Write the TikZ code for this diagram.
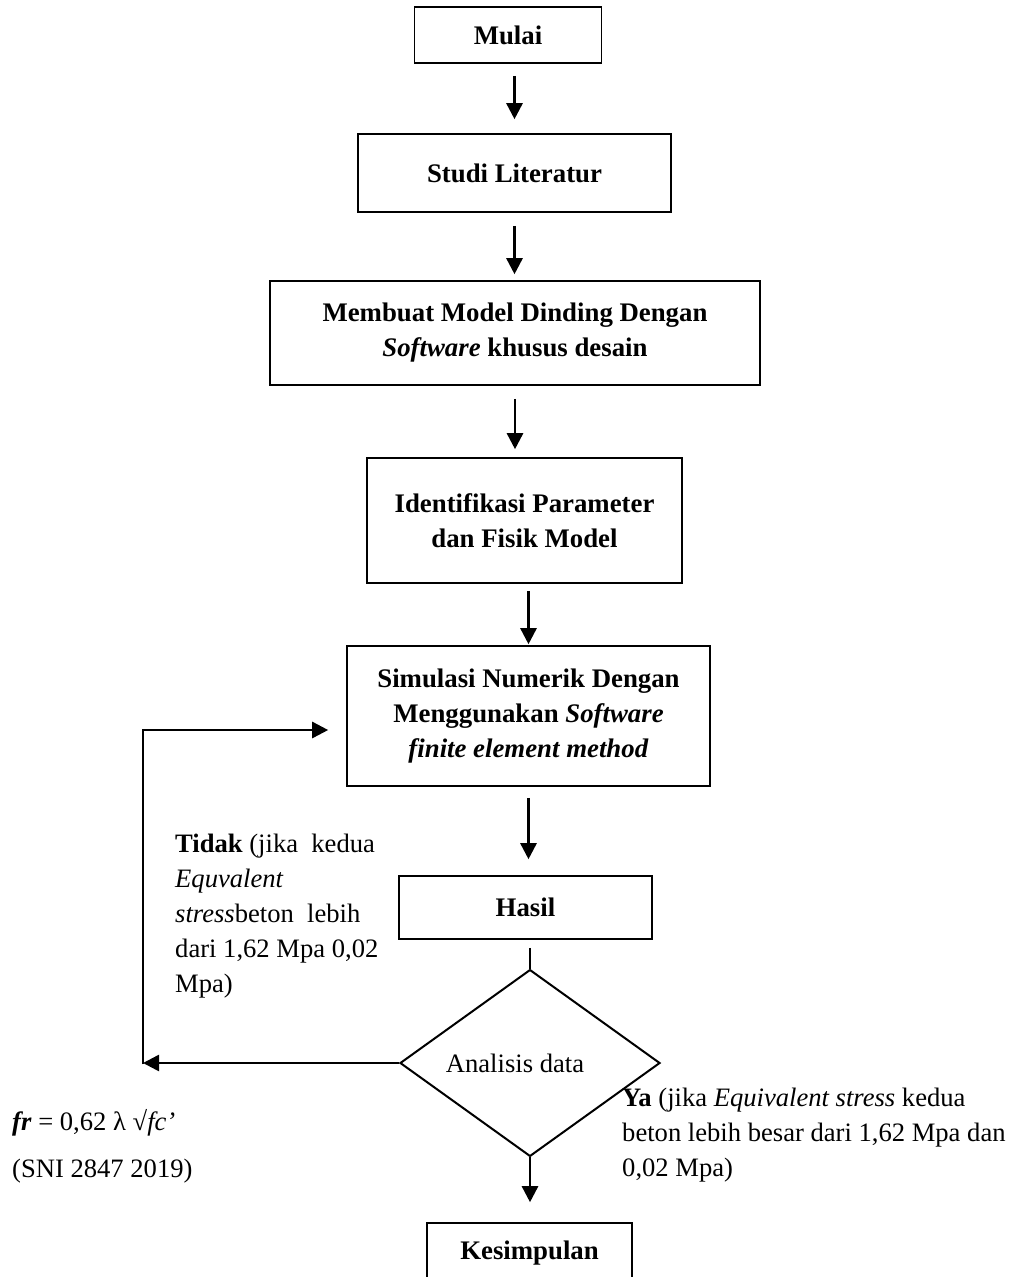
\documentclass[tikz,border=0pt]{standalone}
\usepackage{fontspec}
\setmainfont{Liberation Serif}
\usetikzlibrary{shapes.geometric,arrows.meta}
\begin{document}
\begin{tikzpicture}[x=1pt,y=-1pt,
  box/.style={draw, line width=1.6pt, inner sep=0pt, align=center, font=\fontsize{26.8}{35}\selectfont\bfseries},
  arr/.style={line width=2.6pt, -{Triangle[length=16pt,width=16pt]}},
  txt/.style={inner sep=0pt, align=left, font=\fontsize{26.6}{35}\selectfont}]
\useasboundingbox (0,0) rectangle (1013,1277);
\clip (0,0) rectangle (1013,1277);
\node[box, minimum width=187pt, minimum height=56pt] (mulai) at (508,35) {Mulai};
\node[box, minimum width=313pt, minimum height=78pt] (studi) at (514.5,173) {Studi Literatur};
\node[box, minimum width=490pt, minimum height=104pt] (model) at (515,333) {Membuat Model Dinding Dengan\\\textit{Software} khusus desain};
\node[box, minimum width=315pt, minimum height=125pt] (ident) at (524.5,520.5) {Identifikasi Parameter\\dan Fisik Model};
\node[box, minimum width=363pt, minimum height=140pt] (sim) at (528.5,716) {Simulasi Numerik Dengan\\Menggunakan \textit{Software}\\\textit{finite element method}};
\node[box, minimum width=253pt, minimum height=63pt] (hasil) at (525.5,907.5) {Hasil};
\node[diamond, draw, line width=2pt, minimum width=260pt, minimum height=176pt, inner sep=0pt, font=\fontsize{26.6}{35}\selectfont] (dec) at (530,1063) {Analisis data\hspace*{30pt}};
\node[box, minimum width=205pt, minimum height=60pt] (kes) at (529.5,1253) {Kesimpulan};
\node[txt, anchor=north west] (tidak) at (175,834) {\textbf{Tidak} (jika\ \ kedua\\\textit{Equvalent}\\\textit{stress}beton\ \ lebih\\dari 1,62 Mpa 0,02\\Mpa)};
\node[txt, anchor=north west] (ya) at (622,1088) {\textbf{Ya} (jika \textit{Equivalent stress} kedua\\beton lebih besar dari 1,62 Mpa dan\\0,02 Mpa)};
\node[txt, anchor=base west] (fr) at (12,1130) {\textbf{\textit{fr}} = 0,62 λ √\textit{fc’}};
\node[txt, anchor=base west] (sni) at (12,1177) {(SNI 2847 2019)};
\draw[arr, shorten <=12pt, shorten >=14pt] (mulai.south -| studi.north) -- (studi.north);
\draw[arr, shorten <=13pt, shorten >=6pt] (studi.south) -- (studi.south |- model.north);
\draw[arr, shorten <=13pt, shorten >=8pt] (model.south) -- (model.south |- ident.north);
\draw[arr, shorten <=7pt, shorten >=1pt] (ident.south -| sim.north) -- (sim.north);
\draw[arr, shorten <=11pt, shorten >=16pt] (sim.south) -- (sim.south |- hasil.north);
\draw[line width=2.6pt, shorten <=8pt] (hasil.south -| dec.north) -- (dec.north);
\draw[arr, shorten >=20pt] (dec.south) -- (dec.south |- kes.north);
\coordinate (corner) at (143,1063);
\draw[arr] (dec.west) -- (corner);
\draw[arr, shorten >=18pt] ([yshift=-1.3pt]corner) |- ([yshift=-14pt]sim.west);
\end{tikzpicture}
\end{document}
